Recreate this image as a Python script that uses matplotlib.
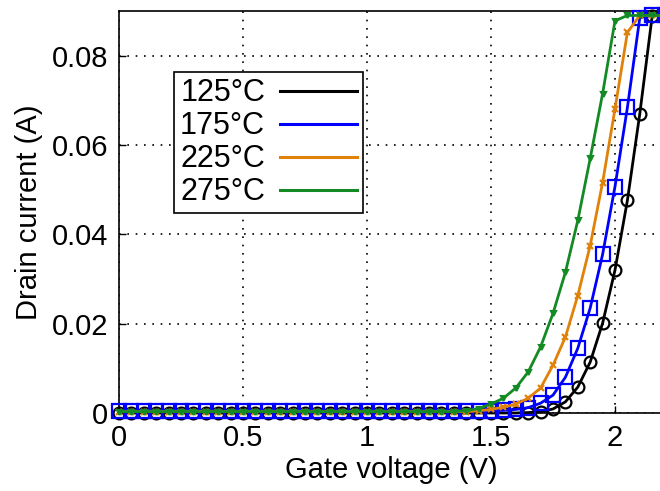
import matplotlib
matplotlib.use('agg')
import matplotlib.pyplot as plt
from matplotlib.lines import Line2D

###########################################################
# data (A vs V)
###########################################################
gate_v = [0.00, 0.05, 0.10, 0.15, 0.20, 0.25, 0.30, 0.35, 0.40, 0.45,
          0.50, 0.55, 0.60, 0.65, 0.70, 0.75, 0.80, 0.85, 0.90, 0.95,
          1.00, 1.05, 1.10, 1.15, 1.20, 1.25, 1.30, 1.35, 1.40, 1.45,
          1.50, 1.55, 1.60, 1.65, 1.70, 1.75, 1.80, 1.85, 1.90, 1.95,
          2.00, 2.05, 2.10, 2.15, 2.20]

i_125 = [0.0] * 30 + [0.0, 0.0, 0.0, 0.0001, 0.0003, 0.0009, 0.0025, 0.0058,
                      0.0114, 0.0201, 0.0320, 0.0476, 0.0670, 0.0889, 0.0890]
i_175 = [0.0005] * 30 + [0.0005, 0.0006, 0.0008, 0.0012, 0.0022, 0.0040, 0.0080,
                         0.0145, 0.0235, 0.0355, 0.0507, 0.0684, 0.0885, 0.0890, 0.0890]
i_225 = [0.0003] * 28 + [0.0003, 0.0005, 0.0008, 0.0013, 0.0020, 0.0033, 0.0056,
                         0.0107, 0.0170, 0.0263, 0.0375, 0.0516, 0.0681, 0.0852,
                         0.0890, 0.0890, 0.0890]
i_275 = [0.0003] * 28 + [0.0005, 0.0010, 0.0020, 0.0033, 0.0056, 0.0092, 0.0148,
                         0.0223, 0.0315, 0.0431, 0.0570, 0.0715, 0.0878, 0.0890,
                         0.0890, 0.0890, 0.0890]

labels = ['125\u00b0C', '175\u00b0C', '225\u00b0C', '275\u00b0C']
colors = ['#000000', '#0000ff', '#e0820a', '#138a24']
markers = ['o', 's', 'x', 'v']
msizes = [8.5, 10.5, 4.5, 3.5]

plt.rcParams['font.family'] = ['Liberation Sans', 'DejaVu Sans']
plt.rcParams['font.size'] = 21

fig = plt.figure(figsize=(6.6, 4.91), dpi=100)
ax = fig.add_axes([119 / 660, 78 / 491, 545.6 / 660, 402 / 491])

for ys, c, m, ms in zip([i_125, i_175, i_225, i_275], colors, markers, msizes):
    filled = m in ('v',)
    ax.plot(gate_v, ys, color=c, lw=2, marker=m, ms=ms, mew=1.6,
            mfc=c if filled else 'none', mec=c, clip_on=False, zorder=3)

ax.set_xlim(0, 2.2)
ax.set_ylim(0, 0.09)
ax.set_xticks([0, 0.5, 1, 1.5, 2])
ax.set_xticklabels(['0', '0.5', '1', '1.5', '2'])
ax.set_yticks([0, 0.02, 0.04, 0.06, 0.08])
ax.set_yticklabels(['0', '0.02', '0.04', '0.06', '0.08'])
ax.tick_params(direction='in', length=5, width=1, pad=8)
ax.grid(True, color='black', linestyle=(0, (1, 4)), linewidth=1.2)
for s in ax.spines.values():
    s.set_linewidth(1.2)

ax.set_xlabel('Gate voltage (V)', labelpad=3)
ax.set_ylabel('Drain current (A)', labelpad=6)

handles = [Line2D([], [], color=c, lw=2.2) for c in colors]
leg = ax.legend(handles, labels, loc='upper left', bbox_to_anchor=(0.1008, 0.848),
                borderaxespad=0, markerfirst=False, handlelength=2.5,
                labelspacing=0.1, borderpad=0.2, handletextpad=0.5,
                fancybox=False, framealpha=1, edgecolor='black', fontsize=22)
leg.get_frame().set_linewidth(1.2)

fig.savefig('out.png', dpi=100)
